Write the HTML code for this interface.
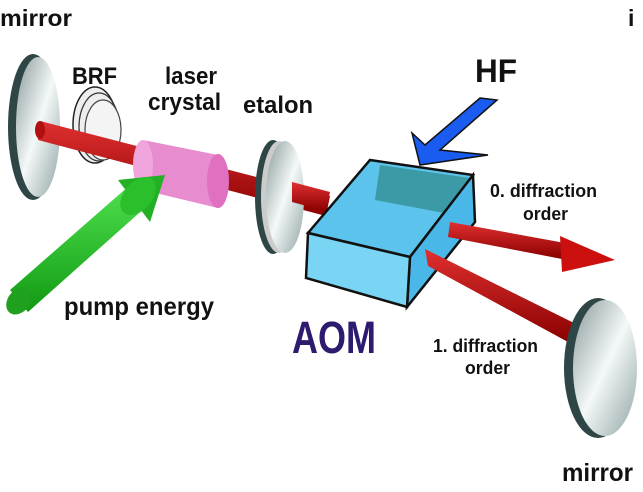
<!DOCTYPE html>
<html><head><meta charset="utf-8"><style>html,body{margin:0;padding:0;background:#fff}svg{display:block}</style></head>
<body>
<svg width="643" height="492" viewBox="0 0 643 492" xmlns="http://www.w3.org/2000/svg" font-family="Liberation Sans, sans-serif" font-weight="bold">
<defs>
<linearGradient id="mir" x1="0" y1="0" x2="1" y2="1">
<stop offset="0" stop-color="#8a9a9a"/><stop offset="0.5" stop-color="#f4f8f8"/><stop offset="1" stop-color="#8fa3a3"/>
</linearGradient>
<linearGradient id="red" x1="0" y1="0" x2="0" y2="1">
<stop offset="0" stop-color="#e03030"/><stop offset="1" stop-color="#8a0000"/>
</linearGradient>
<linearGradient id="grn" x1="0" y1="0" x2="0" y2="1">
<stop offset="0" stop-color="#4ee04e"/><stop offset="1" stop-color="#129a12"/>
</linearGradient>
</defs>
<g lengthAdjust="spacingAndGlyphs">
<text x="0" y="26" font-size="23" textLength="72" lengthAdjust="spacingAndGlyphs" fill="#111">mirror</text>
<text x="628" y="26" font-size="23" fill="#111">i</text>
</g>
<!-- left mirror -->
<ellipse cx="33" cy="127" rx="25" ry="73" fill="#2f4646"/>
<ellipse cx="38" cy="127" rx="22" ry="70" fill="url(#mir)"/>
<!-- BRF -->
<ellipse cx="95" cy="125" rx="22" ry="38" fill="#eee" stroke="#222" stroke-width="1.5"/>
<ellipse cx="99" cy="127" rx="20" ry="34" fill="none" stroke="#333" stroke-width="1.2"/>
<ellipse cx="103" cy="130" rx="18" ry="30" fill="#f4f4f4" stroke="#444" stroke-width="1.2"/>
<!-- beam -->
<path d="M40 121 L330 196 L326 216 L38 140 Z" fill="url(#red)"/>
<ellipse cx="40" cy="130" rx="5" ry="9" fill="#b01010"/>
<!-- crystal -->
<path d="M143 140 L218 155 L218 208 L143 190 Z" fill="#e78ccf"/>
<ellipse cx="143" cy="165" rx="10" ry="25" fill="#f0a6dc"/>
<ellipse cx="218" cy="181" rx="11" ry="27" fill="#e070c0"/>
<!-- green arrow -->
<path d="M10 290 L130 185 L148 205 L28 312 Z" fill="url(#grn)"/>
<ellipse cx="19" cy="301" rx="11" ry="15" transform="rotate(40 19 301)" fill="#1fa01f"/>
<path d="M118 180 L165 175 L150 222 Z" fill="#24b024"/>
<ellipse cx="138" cy="196" rx="14" ry="22" transform="rotate(40 138 196)" fill="#2bc02b"/>
<!-- etalon -->
<ellipse cx="273" cy="197" rx="18" ry="57" fill="#2f4646"/>
<ellipse cx="279" cy="197" rx="18" ry="56" fill="#ccc"/>
<ellipse cx="285" cy="197" rx="19" ry="56" fill="url(#mir)"/>
<path d="M292 182 L330 192 L326 211 L292 202 Z" fill="url(#red)"/>
<!-- AOM box -->
<polygon points="370,160 473,175 410,257 308,233" fill="#5cc4ec" stroke="#111" stroke-width="2.5"/>
<polygon points="380,165 470,178 455,215 375,200" fill="#3c9aa6"/>
<polygon points="473,175 475,222 407,307 410,257" fill="#49b8e8" stroke="#111" stroke-width="2.5"/>
<polygon points="308,233 410,257 407,307 306,278" fill="#7ad4f4" stroke="#111" stroke-width="2.5"/>
<!-- HF arrow -->
<path d="M480 98 L497 100 L440 150 L488 155 L420 165 L412 133 L425 145 Z" fill="#1a5cf0" stroke="#111" stroke-width="1.5"/>
<text x="475" y="82" font-size="32" textLength="42" lengthAdjust="spacingAndGlyphs" fill="#111">HF</text>
<!-- beams out -->
<path d="M450 222 L565 243 L562 259 L448 237 Z" fill="url(#red)"/>
<path d="M560 236 L615 260 L562 272 Z" fill="#cc1010"/>
<path d="M425 249 L576 324 L568 342 L428 266 Z" fill="url(#red)"/>
<!-- right mirror -->
<ellipse cx="598" cy="368" rx="34" ry="70" fill="#2f4646"/>
<ellipse cx="605" cy="368" rx="32" ry="68" fill="url(#mir)"/>
<!-- labels -->
<text x="72" y="84" font-size="24" textLength="45" lengthAdjust="spacingAndGlyphs" fill="#111">BRF</text>
<text x="165" y="84" font-size="24" textLength="52" lengthAdjust="spacingAndGlyphs" fill="#111">laser</text>
<text x="148" y="110" font-size="24" textLength="73" lengthAdjust="spacingAndGlyphs" fill="#111">crystal</text>
<text x="243" y="113" font-size="24" textLength="70" lengthAdjust="spacingAndGlyphs" fill="#111">etalon</text>
<text x="490" y="197" font-size="18" textLength="107" lengthAdjust="spacingAndGlyphs" fill="#111">0. diffraction</text>
<text x="523" y="220" font-size="18" textLength="45" lengthAdjust="spacingAndGlyphs" fill="#111">order</text>
<text x="64" y="315" font-size="25" textLength="150" lengthAdjust="spacingAndGlyphs" fill="#111">pump energy</text>
<text x="292" y="353" font-size="45" textLength="84" lengthAdjust="spacingAndGlyphs" fill="#2e1a6e">AOM</text>
<text x="433" y="352" font-size="18" textLength="105" lengthAdjust="spacingAndGlyphs" fill="#111">1. diffraction</text>
<text x="465" y="374" font-size="18" textLength="45" lengthAdjust="spacingAndGlyphs" fill="#111">order</text>
<text x="562" y="481" font-size="25" textLength="71" lengthAdjust="spacingAndGlyphs" fill="#111">mirror</text>
</svg>
</body></html>
